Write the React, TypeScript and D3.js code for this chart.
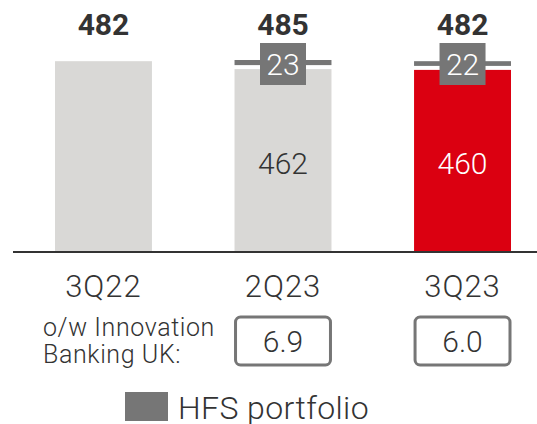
import React from "react";
import * as d3 from "d3";

const categories = ["3Q22", "2Q23", "3Q23"];
const totals = [482, 485, 482];
const coreValues = [482, 462, 460];
const hfsValues = [0, 23, 22];
const innovationBanking = ["", "6.9", "6.0"];
const highlight = [false, false, true];

const width = 537;
const height = 424;
const baseline = 252;
const FONT = "Roboto, 'Liberation Sans', sans-serif";

const grey = "#d9d8d6";
const red = "#db0011";
const hfsGrey = "#767676";
const textDark = "#333333";

const App = () => {
  const x = d3.scaleBand().domain(categories).range([55, 511]).paddingInner(0.46).paddingOuter(0);
  const y = d3.scaleLinear().domain([0, 485]).range([baseline, 60]);
  const bw = x.bandwidth();

  return (
    <svg width={width} height={height} style={{ position: "absolute", left: 0, top: 0 }}>
      {categories.map((c, i) => {
        const x0 = x(c)!;
        const cx = x0 + bw / 2;
        const hasHfs = hfsValues[i] > 0;
        const yCore = y(coreValues[i]);
        const yTop = y(totals[i]);
        return (
          <g key={c}>
            <rect x={x0} y={yCore} width={bw} height={baseline - yCore} fill={highlight[i] ? red : grey} />
            {hasHfs && (
              <>
                <rect x={x0} y={yTop} width={bw} height={Math.max(3, yCore - yTop - 4)} fill={hfsGrey} />
                <rect x={cx - 23} y={43} width={46} height={42} fill={hfsGrey} />
                <text x={cx} y={75} textAnchor="middle" fontFamily={FONT} fontWeight={300} fontSize={30} fill="#fff">
                  {hfsValues[i]}
                </text>
                <text
                  x={cx}
                  y={174}
                  textAnchor="middle"
                  fontFamily={FONT}
                  fontWeight={300}
                  fontSize={30}
                  fill={highlight[i] ? "#fff" : textDark}
                >
                  {coreValues[i]}
                </text>
              </>
            )}
            <text x={cx} y={35} textAnchor="middle" fontFamily={FONT} fontWeight={700} fontSize={30} fill={textDark}>
              {totals[i]}
            </text>
            <text
              x={cx}
              y={297}
              textAnchor="middle"
              fontFamily={FONT}
              fontWeight={300}
              fontSize={31}
              letterSpacing={1}
              fill={textDark}
            >
              {c}
            </text>
            {innovationBanking[i] && (
              <>
                <rect x={x0 + 1} y={317} width={bw - 2} height={48} rx={5} fill="none" stroke={hfsGrey} strokeWidth={3} />
                <text x={cx} y={352} textAnchor="middle" fontFamily={FONT} fontWeight={300} fontSize={30} fill={textDark}>
                  {innovationBanking[i]}
                </text>
              </>
            )}
          </g>
        );
      })}
      <line x1={13} x2={width} y1={baseline} y2={baseline} stroke={textDark} strokeWidth={2} />
      <text x={43} y={336} fontFamily={FONT} fontWeight={300} fontSize={25} letterSpacing={0.6} fill={textDark}>
        o/w Innovation
      </text>
      <text x={43} y={363} fontFamily={FONT} fontWeight={300} fontSize={25} letterSpacing={0.6} fill={textDark}>
        Banking UK:
      </text>
      <rect x={125} y={392} width={43} height={29} fill={hfsGrey} />
      <text x={178} y={419} fontFamily={FONT} fontWeight={300} fontSize={32} letterSpacing={0.4} fill={textDark}>
        HFS portfolio
      </text>
    </svg>
  );
};

export default App;
